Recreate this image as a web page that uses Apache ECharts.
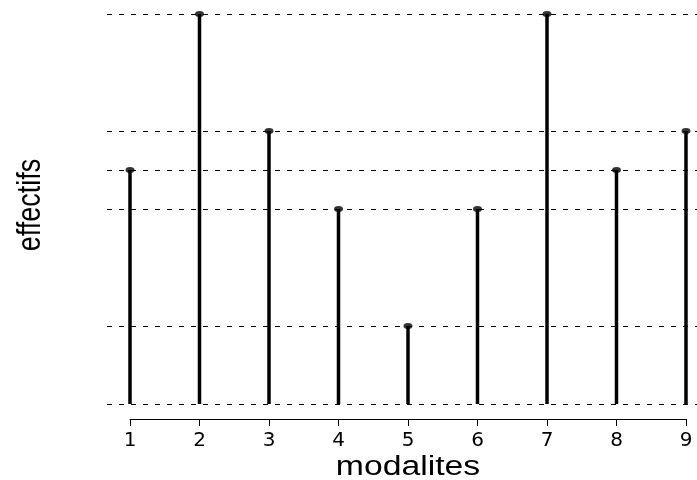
<!DOCTYPE html>
<html>
<head>
<meta charset="utf-8">
<script src="https://cdn.jsdelivr.net/npm/echarts@6/dist/echarts.min.js"></script>
<style>
  html, body { margin: 0; padding: 0; background: #fff; }
  #chart { width: 697px; height: 480px; }
</style>
</head>
<body>
<div id="chart"></div>
<script>
// Modalities on the x axis and their counts (effectifs)
var modalites = [1, 2, 3, 4, 5, 6, 7, 8, 9];
var effectifs = [6, 10, 7, 5, 2, 5, 10, 6, 7];

// Dashed reference lines at every distinct count, plus the zero baseline
var niveaux = Array.from(new Set([0].concat(effectifs))).sort(function (a, b) { return a - b; });

var xTitle = 'modalites';
var yTitle = 'effectifs';

var points = modalites.map(function (m, i) { return [m, effectifs[i]]; });

var chart = echarts.init(document.getElementById('chart'));
chart.setOption({
  animation: false,
  backgroundColor: '#ffffff',
  grid: [
    { left: 107, right: 0, top: 14, bottom: 76 },
    { left: 130, right: 11, top: 418, bottom: 61 }
  ],
  xAxis: [
    { type: 'value', gridIndex: 0, min: 0.6691, max: 9.1583, show: false },
    {
      type: 'value', gridIndex: 1, min: 1, max: 9, interval: 1,
      axisLine: { show: true, lineStyle: { color: '#000', width: 1 } },
      axisTick: { show: true, length: 7, lineStyle: { color: '#000', width: 1 } },
      axisLabel: { color: '#000', fontSize: 20, fontFamily: 'DejaVu Sans', margin: 12 },
      splitLine: { show: false }
    }
  ],
  yAxis: [
    { type: 'value', gridIndex: 0, min: 0, max: 10, show: false },
    { type: 'value', gridIndex: 1, show: false }
  ],
  series: [
    {
      type: 'bar',
      xAxisIndex: 0, yAxisIndex: 0,
      data: points,
      barWidth: 3.5,
      itemStyle: { color: '#000' },
      z: 3,
      markLine: {
        silent: true,
        symbol: 'none',
        label: { show: false },
        lineStyle: { color: '#000', width: 1, type: [5, 7] },
        data: niveaux.map(function (v) { return { yAxis: v }; })
      }
    },
    {
      type: 'scatter',
      xAxisIndex: 0, yAxisIndex: 0,
      data: points,
      symbol: 'circle',
      symbolSize: [9, 6],
      itemStyle: { color: '#000' },
      z: 4
    }
  ],
  graphic: [
    {
      type: 'text',
      x: 408, y: 468,
      scaleX: 1.25,
      style: {
        text: xTitle, fontSize: 27, fontFamily: 'Liberation Sans', fill: '#000',
        align: 'center', verticalAlign: 'middle', textAlign: 'center', textVerticalAlign: 'middle'
      }
    },
    {
      type: 'text',
      x: 31, y: 205,
      rotation: Math.PI / 2,
      scaleY: 1.25,
      style: {
        text: yTitle, fontSize: 27, fontFamily: 'Liberation Sans', fill: '#000',
        align: 'center', verticalAlign: 'middle', textAlign: 'center', textVerticalAlign: 'middle'
      }
    }
  ]
});
</script>
</body>
</html>
